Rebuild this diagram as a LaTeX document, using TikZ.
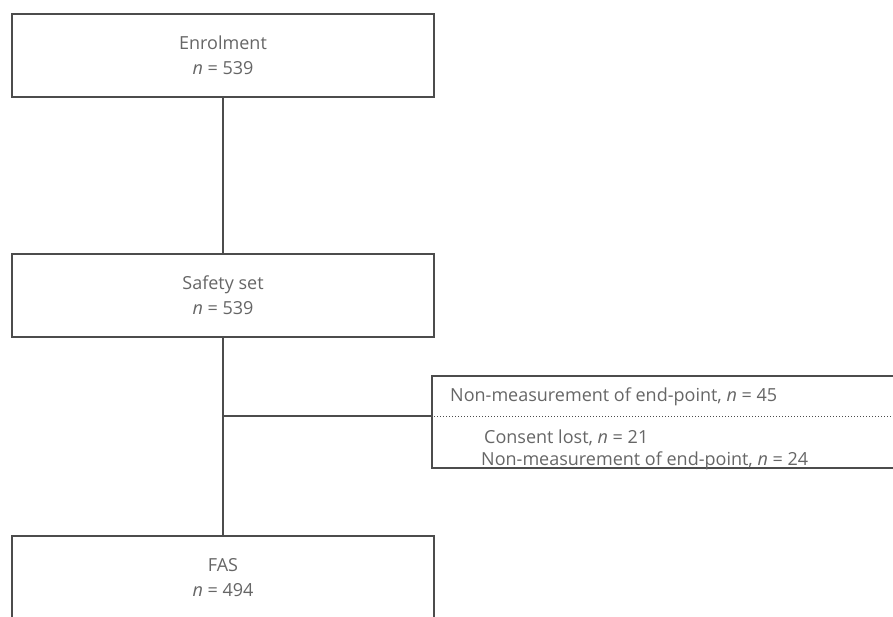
\documentclass[tikz,border=0pt]{standalone}
\usepackage{fontspec}
\setmainfont{Open Sans}
\begin{document}
\begin{tikzpicture}[x=1pt,y=-1pt,
  edgecol/.style={draw=black!70, line width=1.5pt},
  stagebox/.style={edgecol, rectangle, minimum width=422pt, minimum height=83pt,
     align=center, text=black!60, font=\fontsize{18}{25}\selectfont, inner sep=0pt},
  link/.style={edgecol},
  txt/.style={anchor=west, text=black!60, font=\fontsize{18}{20}\selectfont, inner sep=0pt}]
\useasboundingbox (0,0) rectangle (893,617);
\clip (0,0) rectangle (893,617);
\node[stagebox] (enrol) at (223,55.5) {Enrolment\\\textit{n} = 539};
\node[stagebox] (safety) at (223,295.5) {Safety set\\\textit{n} = 539};
\node[stagebox] (fas) at (223,577.5) {FAS\\\textit{n} = 494};
\node[edgecol, rectangle, minimum width=480pt, minimum height=92pt, inner sep=0pt] (excl) at (672,422) {};
\coordinate (branch) at (223,416);
\draw[link] (enrol.south) -- (safety.north);
\draw[link] (safety.south) -- (fas.north);
\draw[link] (branch) -- (branch -| excl.west);
\draw[black!70, line width=1pt, dash pattern=on 1pt off 2pt] (excl.west |- branch) -- (excl.east |- branch);
\node[txt] (t1) at (450,397) {Non-measurement of end-point, \textit{n} = 45};
\node[txt] (t2) at (484,438) {Consent lost, \textit{n} = 21};
\node[txt] (t3) at (481,461) {Non-measurement of end-point, \textit{n} = 24};
\end{tikzpicture}
\end{document}
